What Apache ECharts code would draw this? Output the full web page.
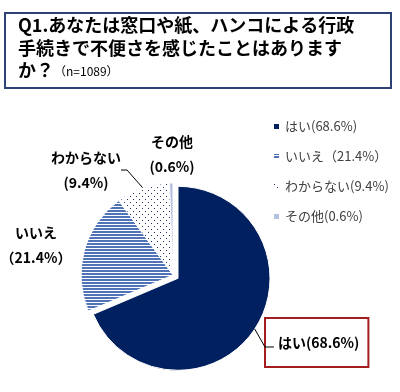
<!DOCTYPE html>
<html><head><meta charset="utf-8">
<script src="https://cdn.jsdelivr.net/npm/echarts@6/dist/echarts.min.js"></script>
<style>html,body{margin:0;padding:0;background:#fff}#c{width:400px;height:392px}</style>
</head><body><div id="c"></div>
<script>
const categories = ['はい', 'いいえ', 'わからない', 'その他'];
const values = [68.6, 21.4, 9.4, 0.6];
const labelTexts = ['はい(68.6%)', 'いいえ\n（21.4%）', 'わからない\n(9.4%)', 'その他\n(0.6%)'];
const legendTexts = ['はい(68.6%)', 'いいえ（21.4%）', 'わからない(9.4%)', 'その他(0.6%)'];
const titleLines = ['Q1.あなたは窓口や紙、ハンコによる行政', '手続きで不便さを感じたことはあります', 'か？'];
const sampleNote = '（n=1089）';

const FONT = '"Noto Sans CJK JP", "Noto Sans", sans-serif';

function stripePattern() {
  const c = document.createElement('canvas'); c.width = 4; c.height = 3;
  const g = c.getContext('2d');
  g.fillStyle = '#ffffff'; g.fillRect(0, 0, 4, 3);
  g.fillStyle = '#4f73b6'; g.fillRect(0, 0, 4, 2);
  return { image: c, repeat: 'repeat' };
}
function dotPattern() {
  const c = document.createElement('canvas'); c.width = 6; c.height = 6;
  const g = c.getContext('2d');
  g.fillStyle = '#ffffff'; g.fillRect(0, 0, 6, 6);
  g.fillStyle = '#1f3263';
  g.fillRect(1, 1, 1, 1); g.fillRect(4, 4, 1, 1);
  return { image: c, repeat: 'repeat' };
}
const fills = ['#002060', stripePattern(), dotPattern(), '#b4c0df'];
const labelPos = [[265, 318], [36, 245], [86, 170], [172, 154]];

// pie geometry
const pieCenter = [173, 275];
const pieRadius = 92;
const explode = 6;
const total = values.reduce((a, b) => a + b, 0);
const midAngle = (values[0] / total) * Math.PI;
const explodedCenter = [pieCenter[0] + explode * Math.sin(midAngle), pieCenter[1] - explode * Math.cos(midAngle)];
// leader line for the boxed はい label: from the slice's arc midpoint to the label box
const anchorPt = [explodedCenter[0] + pieRadius * Math.sin(midAngle), explodedCenter[1] - pieRadius * Math.cos(midAngle)];
const elbow = [labelPos[0][0], labelPos[0][1] + 29];
const tail = [labelPos[0][0] + 9, labelPos[0][1] + 29];

const hidden = { color: 'rgba(0,0,0,0)', borderWidth: 0 };
const leader = { color: '#000', width: 1 };

const dataA = [
  { name: categories[0], value: values[0], itemStyle: { color: fills[0] },
    label: { show: true, formatter: labelTexts[0], borderColor: '#a31f1f', borderWidth: 2,
      padding: [16, 9, 15, 13], lineHeight: 18, align: 'left', verticalAlign: 'top' },
    labelLine: { show: false } },
  { name: '_rest', value: total - values[0], itemStyle: hidden,
    label: { show: false }, labelLine: { show: false }, tooltip: { show: false } }
];
const dataB = categories.map((n, i) => ({
  name: n, value: values[i],
  itemStyle: i === 0 ? hidden : { color: fills[i] },
  label: { show: i !== 0, formatter: labelTexts[i] },
  labelLine: { show: i === 2, lineStyle: leader }
}));

const chart = echarts.init(document.getElementById('c'));
const commonLabel = { fontFamily: FONT, fontWeight: 'bold', fontSize: 14, color: '#000', lineHeight: 25, align: 'center' };
chart.setOption({
  animation: false,
  backgroundColor: '#fff',
  graphic: {
    elements: [
      { type: 'rect', shape: { x: 5, y: 13, width: 386, height: 75 },
        style: { fill: '#fff', stroke: '#2f4275', lineWidth: 2 } },
      { type: 'text', left: 18, top: 16, style: { text: titleLines[0], font: 'bold 18px ' + FONT, fill: '#000' } },
      { type: 'text', left: 18, top: 39, style: { text: titleLines[1], font: 'bold 18px ' + FONT, fill: '#000' } },
      { type: 'text', left: 18, top: 61, style: {
        text: '{a|' + titleLines[2] + '}{b|' + sampleNote + '}',
        rich: { a: { font: 'bold 18px ' + FONT, fill: '#000', color: '#000' },
                b: { fontSize: 12, fontFamily: FONT, color: '#404040', padding: [3, 0, 0, 0] } } } },
      { type: 'line', z: 100, silent: true,
        shape: { x1: anchorPt[0], y1: anchorPt[1], x2: elbow[0], y2: elbow[1] },
        style: { stroke: '#000', lineWidth: 1 } },
      { type: 'line', z: 100, silent: true,
        shape: { x1: elbow[0], y1: elbow[1], x2: tail[0], y2: tail[1] },
        style: { stroke: '#000', lineWidth: 1 } }
    ]
  },
  legend: {
    data: categories,
    orient: 'vertical', left: 267, top: 115, itemWidth: 7, itemHeight: 7, itemGap: 17,
    icon: 'rect', selectedMode: false,
    textStyle: { fontSize: 13, color: '#404040', fontFamily: FONT },
    formatter: name => legendTexts[categories.indexOf(name)]
  },
  series: [{
    type: 'pie', center: explodedCenter, radius: pieRadius, startAngle: 90, clockwise: true,
    avoidLabelOverlap: false, emphasis: { disabled: true },
    itemStyle: { borderColor: '#fff', borderWidth: 1 },
    label: commonLabel,
    labelLine: { show: false },
    labelLayout: p => ({ x: labelPos[0][0], y: labelPos[0][1], align: 'left', verticalAlign: 'top' }),
    data: dataA
  }, {
    type: 'pie', center: pieCenter, radius: pieRadius, startAngle: 90, clockwise: true,
    avoidLabelOverlap: false, emphasis: { disabled: true },
    itemStyle: { borderColor: '#fff', borderWidth: 1 },
    label: commonLabel,
    labelLine: { length: 10, length2: 6, lineStyle: leader },
    labelLayout: p => ({ x: labelPos[p.dataIndex][0], y: labelPos[p.dataIndex][1], align: 'center', verticalAlign: 'middle' }),
    data: dataB
  }]
});
</script></body></html>
